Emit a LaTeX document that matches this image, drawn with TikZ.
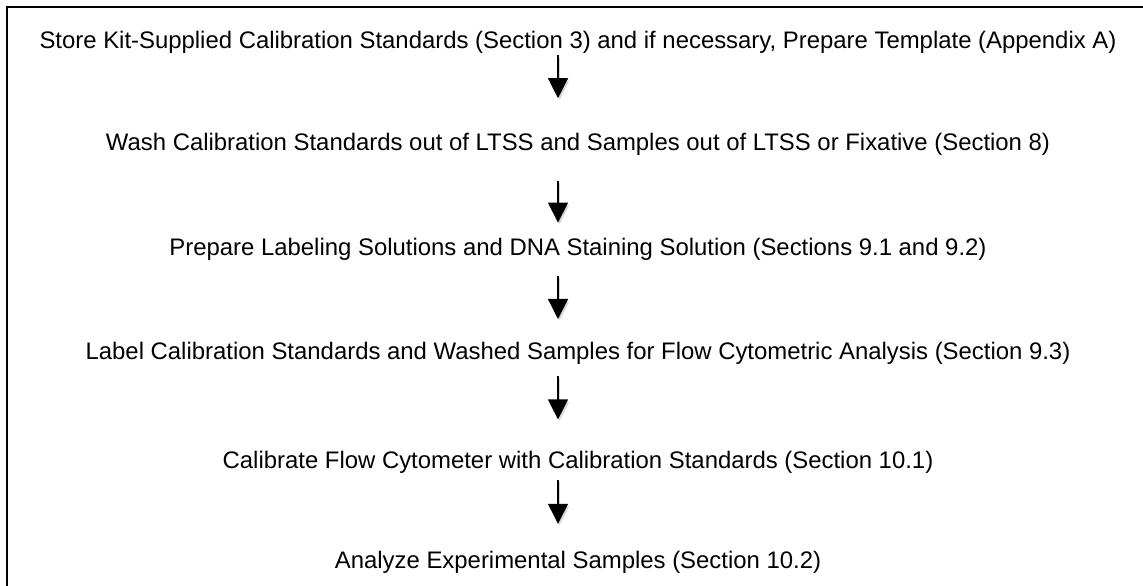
\documentclass[tikz,border=0pt]{standalone}
\usepackage{fontspec}
\setmainfont{Liberation Sans}
\usetikzlibrary{positioning, arrows.meta}
\tikzstyle{frame} = [line width=2.6pt, draw=black]

\begin{document}
\begin{tikzpicture}[x=1pt, y=1pt, node distance=80pt]
        \tikzstyle{block} = [inner sep=0pt, text height=17pt, text depth=5pt,
        font=\fontsize{23.9}{28}\selectfont]
        \tikzstyle{line} = [draw, line width=1.3pt,
        -{Triangle[length=20pt, width=20pt]},
        preaction={draw=black!16, transform canvas={xshift=1.6pt, yshift=-2.4pt}}]

        \useasboundingbox (0,0) rectangle (1143,586);
        \draw [frame] (7,0) -- (7,579) -- (1143,579);
        \coordinate (axis) at (558,0);

        \node [block] (node1) at (578,543.4)
            {Store Kit-Supplied Calibration Standards (Section 3) and if necessary, Prepare Template (Appendix A)};
        \node [block, below=80pt of node1] (node2)
            {Wash Calibration Standards out of LTSS and Samples out of LTSS or Fixative (Section 8)};
        \node [block, below=82pt of node2] (node3)
            {Prepare Labeling Solutions and DNA Staining Solution (Sections 9.1 and 9.2)};
        \node [block, below=82pt of node3] (node4)
            {Label Calibration Standards and Washed Samples for Flow Cytometric Analysis (Section 9.3)};
        \node [block, below=86pt of node4] (node5)
            {Calibrate Flow Cytometer with Calibration Standards (Section 10.1)};
        \node [block, below=78pt of node5] (node6)
            {Analyze Experimental Samples (Section 10.2)};

        \draw [line, shorten <=1.4pt, shorten >=35.6pt] (node1.south -| axis) -- (node2.north -| axis);
        \draw [line, shorten <=24.4pt, shorten >=15.6pt] (node2.south -| axis) -- (node3.north -| axis);
        \draw [line, shorten <=15.4pt, shorten >=23.6pt] (node3.south -| axis) -- (node4.north -| axis);
        \draw [line, shorten <=11.4pt, shorten >=31.6pt] (node4.south -| axis) -- (node5.north -| axis);
        \draw [line, shorten <=6.4pt, shorten >=27.6pt] (node5.south -| axis) -- (node6.north -| axis);
\end{tikzpicture}
\end{document}
